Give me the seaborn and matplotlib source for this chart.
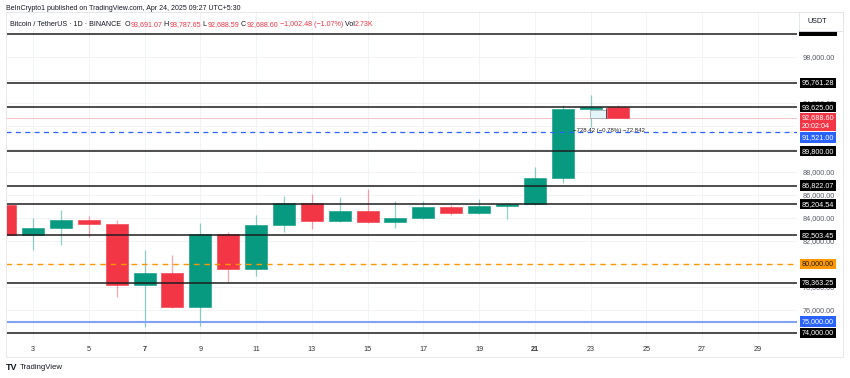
import matplotlib
matplotlib.use("Agg")
import matplotlib.pyplot as plt
import matplotlib.transforms as mtrans
from matplotlib.patches import Rectangle
import seaborn as sns
import pandas as pd

# ---------------- data ----------------
days = list(range(2, 25))
opens = [85158, 82516, 83102, 83843, 83504, 78214, 79235, 76272, 82615, 79607, 83423,
         85276, 83760, 84591, 83643, 84030, 84947, 84474, 85077, 85179, 87516, 93442, 93691.07]
highs = [88500, 83998, 84720, 84207, 83784, 81243, 80823, 83588, 82753, 84300, 85905,
         86100, 85799, 86496, 85500, 85470, 85132, 85677, 85320, 88460, 93817, 94696, 93787.65]
lows = [82320, 81211, 81659, 82377, 77153, 74508, 76198, 74620, 78464, 78936, 82792,
        83034, 83678, 83600, 83111, 83954, 84303, 84315, 83950, 85143, 87084, 91935, 92688.59]
closes = [82516, 83102, 83843, 83504, 78214, 79235, 76272, 82615, 79607, 83423, 85276,
          83760, 84591, 83643, 84030, 84947, 84474, 85077, 85179, 87516, 93442, 93691, 92688.60]

levels = [100000, 95761.28, 93625.00, 89800.00, 86822.07, 85204.54, 82503.45, 78363.25, 74000.00]
orange_level = 80000.00
blue_level = 75000.00
blue_dash_level = 91521.00
last_price = 92688.60
countdown = "20:02:04"

date_ticks = [3, 5, 7, 9, 11, 13, 15, 17, 19, 21, 23, 25, 27, 29]
bold_ticks = [7, 21]
price_ticks = list(range(74000, 98001, 2000))
hidden_price_ticks = [92000]  # fully covered by the last-price label

measure_text = "\u2212728.42 (\u22120.78%) \u221272,842"

df = pd.DataFrame({"day": days, "open": opens, "high": highs, "low": lows, "close": closes})

# ---------------- style ----------------
sns.set_style("white")
plt.rcParams["font.family"] = ["Liberation Sans", "DejaVu Sans"]

W, H = 850, 378
fig = plt.figure(figsize=(8.5, 3.78), dpi=100)
fig.patch.set_facecolor("white")

def fx(px):
    return px / W

def fy(py):
    return 1 - py / H

ax_left, ax_right, ax_top, ax_bottom = 6, 797, 12, 340
ax = fig.add_axes([fx(ax_left), fy(ax_bottom), fx(ax_right - ax_left), (ax_bottom - ax_top) / H])
ax.set_facecolor("white")

# pixel <-> data calibration
px_per_day = 27.88
def day_at(px):
    return 3 + (px - 33) / px_per_day
def price_at(py):
    return 74000 + (333 - py) / 0.0115

ax.set_xlim(day_at(ax_left), day_at(ax_right))
ax.set_ylim(price_at(ax_bottom), price_at(ax_top))

for s in ax.spines.values():
    s.set_visible(False)

# grid
ax.set_xticks(date_ticks)
ax.set_yticks(price_ticks)
ax.grid(True, color="#f1f3f7", lw=0.7, zorder=0)

# candles
green, red = "#089981", "#F23645"
cols = [green if c >= o else red for o, c in zip(df["open"], df["close"])]
ax.vlines(df["day"], df["low"], df["high"], colors=cols, lw=0.9, alpha=0.45, zorder=2)
bottoms = [min(o, c) for o, c in zip(df["open"], df["close"])]
heights = [max(abs(c - o), 40) for o, c in zip(df["open"], df["close"])]
ax.bar(df["day"], heights, bottom=bottoms, width=0.79, color=cols, edgecolor=cols,
       lw=0.4, zorder=3)

# level lines
for lv in levels:
    ax.axhline(lv, color="#1e1e1e", lw=1.1, zorder=4)
ax.axhline(orange_level, color="#ff9800", lw=1.0, ls=(0, (4, 3.5)), zorder=4)
ax.axhline(blue_level, color="#7fa2f5", lw=1.5, zorder=4)
ax.axhline(blue_dash_level, color="#2962ff", lw=0.9, ls=(0, (4, 3.5)), zorder=4)
ax.axhline(last_price, color="#f7c3c8", lw=0.7, zorder=1.5)

# measuring tool overlay
ax.add_patch(Rectangle((day_at(590), price_at(118)), day_at(606) - day_at(590),
                       price_at(110) - price_at(118), facecolor="#e3f5f8",
                       edgecolor="#9aa0a6", lw=0.5, zorder=5))
ax.plot([day_at(606), day_at(606)], [price_at(118), price_at(108)], color="#333", lw=0.6, zorder=5)
ax.text(day_at(573), price_at(131), measure_text, fontsize=4.3, color="#222",
        va="center", ha="left", zorder=6)

# axis tick labels
ax.yaxis.tick_right()
ax.set_yticklabels(["" if p in hidden_price_ticks else f"{p:,.2f}" for p in price_ticks],
                   fontsize=5.2, color="#555a64")
ax.tick_params(axis="y", length=0, pad=4.3)
ax.set_xticklabels([str(d) for d in date_ticks], fontsize=5.2, color="#333")
for lab, d in zip(ax.get_xticklabels(), date_ticks):
    if d in bold_ticks:
        lab.set_fontweight("bold")
ax.tick_params(axis="x", length=0, pad=4.5)

# price labels on the right axis
tr = mtrans.blended_transform_factory(fig.transFigure, ax.transData)
lab_x = fx(802)
def price_label(y, txt, fc, tc="white"):
    ax.text(lab_x, y, txt, transform=tr, fontsize=5.2, color=tc, ha="left", va="center",
            clip_on=False, zorder=20,
            bbox=dict(boxstyle="square,pad=0.22", fc=fc, ec="none"))

for lv in levels[1:]:
    price_label(lv, f"{lv:,.2f}", "black")
price_label(orange_level, f"{orange_level:,.2f}", "#ff9800", "#1a1a1a")
price_label(blue_level, f"{blue_level:,.2f}", "#2962ff")
# last price (two lines) and the blue dashed label pushed below it
ax.text(lab_x, price_at(114.5), f"{last_price:,.2f}\n{countdown}", transform=tr, fontsize=5.2,
        color="white", ha="left", va="top", clip_on=False, zorder=21, linespacing=1.25,
        bbox=dict(boxstyle="square,pad=0.22", fc="#F23645", ec="none"))
ax.text(lab_x, price_at(137.5), f"{blue_dash_level:,.2f}", transform=tr, fontsize=5.2,
        color="white", ha="left", va="center", clip_on=False, zorder=21,
        bbox=dict(boxstyle="square,pad=0.22", fc="#2962ff", ec="none"))

# frame, USDT box and the hidden top label sliver
fig.patches.append(Rectangle((fx(6), fy(357)), fx(843 - 6), (357 - 12) / H, transform=fig.transFigure,
                             fill=False, edgecolor="#e6e8ee", lw=0.7, zorder=1))
fig.patches.append(Rectangle((fx(799), fy(36)), fx(38), 6 / H, transform=fig.transFigure,
                             facecolor="black", edgecolor="none", zorder=29))
fig.patches.append(Rectangle((fx(799), fy(31)), fx(44), 19 / H, transform=fig.transFigure,
                             facecolor="white", edgecolor="#e0e3eb", lw=0.6, zorder=30))
fig.text(fx(807), fy(21.5), "USDT", fontsize=5.2, color="#131722", va="center", ha="left", zorder=31)

# header texts
fig.text(fx(6), fy(8.5), "BeInCrypto1 published on TradingView.com, Apr 24, 2025 09:27 UTC+5:30",
         fontsize=5.0, color="#131722", va="center", ha="left")

fig.canvas.draw()
renderer = fig.canvas.get_renderer()
dark, vred = "#131722", "#F23645"
segments = [("Bitcoin / TetherUS \u00b7 1D \u00b7 BINANCE  ", dark), ("O", dark), ("93,691.07", vred),
            (" H", dark), ("93,787.65", vred), (" L", dark), ("92,688.59", vred),
            (" C", dark), ("92,688.60", vred), (" \u22121,002.48 (\u22121.07%)", vred),
            (" Vol", dark), ("2.73K", vred)]
xpos = 10
for txt, c in segments:
    t = fig.text(fx(xpos), fy(25), txt, fontsize=5.1, color=c, va="center", ha="left")
    bb = t.get_window_extent(renderer=renderer)
    xpos += bb.width

# footer logo
fig.text(fx(6), fy(367.5), "TV", fontsize=6.5, fontweight="bold", color="#131722", va="center", ha="left")
fig.text(fx(20), fy(367.5), "TradingView", fontsize=5.6, color="#131722", va="center", ha="left")

fig.savefig("out.png", dpi=100, facecolor="white")
